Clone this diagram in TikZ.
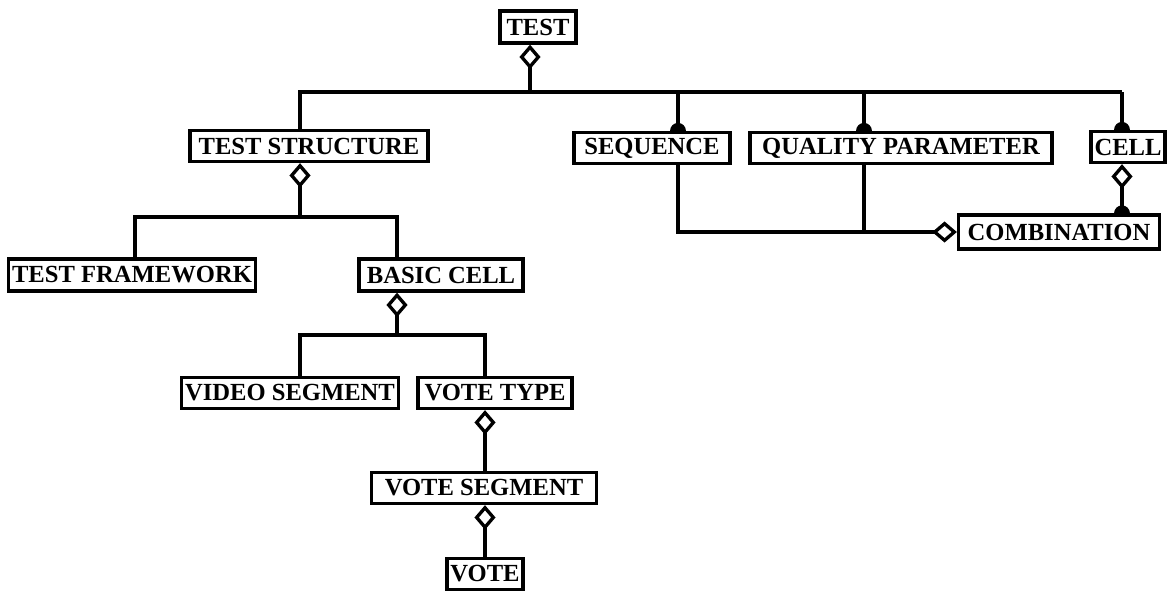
\documentclass[tikz,border=0pt]{standalone}
\usepackage{fontspec}
\setmainfont{Liberation Serif}
\usetikzlibrary{arrows.meta}
\pgfdeclarelayer{back}
\pgfsetlayers{back,main}

\begin{document}
\begin{tikzpicture}[
    x=0.02cm, y=-0.02cm,
    every node/.style={font=\fontsize{14}{16}\selectfont\bfseries},
    entity/.style={rectangle, draw=black, fill=white, line width=1.9pt,
        minimum height=0.62cm, inner sep=2pt},
    link/.style={line width=1.9pt},
    agg/.style={link, {Diamond[open,length=14pt,width=12pt]}-},
    aggin/.style={link, -{Diamond[open,length=14pt,width=12pt]}},
    many/.style={link, -{Circle[length=9pt]}, shorten >=-4.5pt},
    aggmany/.style={link, {Diamond[open,length=14pt,width=12pt]}-{Circle[length=9pt]},
        shorten >=-4.5pt},
]
\useasboundingbox (0,0) rectangle (1167,592);

% entities
\node[entity, minimum width=1.52cm, minimum height=0.64cm] (test) at (538,27) {TEST};
\node[entity, minimum width=4.76cm] (teststruct) at (309,146) {TEST STRUCTURE};
\node[entity, minimum width=3.12cm] (sequence) at (652,148) {SEQUENCE};
\node[entity, minimum width=6.04cm] (qualparam) at (901,148) {QUALITY PARAMETER};
\node[entity, minimum width=1.46cm] (cell) at (1128,147) {CELL};
\node[entity, minimum width=4.02cm, minimum height=0.68cm] (combination) at (1059,232) {COMBINATION};
\node[entity, minimum width=4.94cm, minimum height=0.64cm] (testframe) at (132,275) {TEST FRAMEWORK};
\node[entity, minimum width=3.28cm, minimum height=0.64cm] (basiccell) at (441,275) {BASIC CELL};
\node[entity, minimum width=4.32cm] (videoseg) at (290,393) {VIDEO SEGMENT};
\node[entity, minimum width=3.08cm] (votetype) at (495,393) {VOTE TYPE};
\node[entity, minimum width=4.5cm] (voteseg) at (484,488) {VOTE SEGMENT};
\node[entity, minimum width=1.48cm] (vote) at (485,574) {VOTE};

% bus points
\coordinate (t0) at (530,92);
\coordinate (b1l) at (300,92);
\coordinate (b1r) at (1122,92);
\coordinate (s1) at (678,92);
\coordinate (q1) at (864,92);
\coordinate (c1) at (678,232);
\coordinate (c2) at (864,232);
\coordinate (b2l) at (135,217);
\coordinate (b2r) at (397,217);
\coordinate (b3l) at (300,335);
\coordinate (b3r) at (485,335);

\begin{pgfonlayer}{back}
\fill[white] (0,0) rectangle (1167,592);
% TEST and its parts
\draw[agg] (test.south -| t0) -- (t0);
\draw[link] (teststruct.north -| b1l) -- (b1l) -- (b1r);
\draw[many] (s1) -- (sequence.north -| s1);
\draw[many] (q1) -- (qualparam.north -| q1);
\draw[many] (b1r) -- (cell.north -| b1r);

% combination
\draw[aggin] (sequence.south -| c1) -- (c1) -- (combination.west);
\draw[link] (qualparam.south -| c2) -- (c2);
\draw[aggmany] (cell.south -| b1r) -- (combination.north -| b1r);

% test structure
\draw[agg] (teststruct.south -| b1l) -- (b1l |- b2l);
\draw[link] (testframe.north -| b2l) -- (b2l) -- (b2r) -- (basiccell.north -| b2r);

% basic cell
\draw[agg] (basiccell.south -| b2r) -- (b2r |- b3l);
\draw[link] (videoseg.north -| b3l) -- (b3l) -- (b3r) -- (votetype.north -| b3r);
\draw[agg] (votetype.south -| b3r) -- (voteseg.north -| b3r);
\draw[agg] (voteseg.south -| b3r) -- (vote.north -| b3r);
\end{pgfonlayer}
\end{tikzpicture}
\end{document}
